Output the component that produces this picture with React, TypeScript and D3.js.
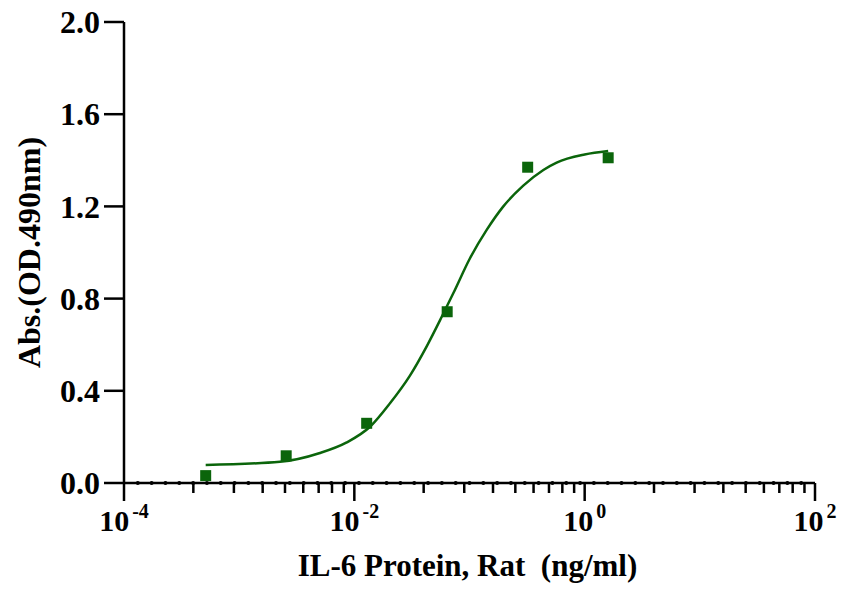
import { useEffect, useRef } from 'react'
import * as d3 from 'd3'

const W = 843, H = 592, M = { top: 22, right: 28, bottom: 109, left: 124 }

// measured points: concentration (ng/ml) and absorbance
const conc = [0.000512, 0.00256, 0.0128, 0.064, 0.32, 1.6]
const absorb = [0.032, 0.118, 0.259, 0.743, 1.370, 1.411]

// fitted curve
const fitConc = [0.000512, 0.00226, 0.00503, 0.00859, 0.01368, 0.0204, 0.0304, 0.0425, 0.0574, 0.0723, 0.101, 0.141, 0.196, 0.293, 0.438, 0.571, 1.0, 1.6]
const fitAbs = [0.078, 0.092, 0.130, 0.176, 0.244, 0.346, 0.466, 0.593, 0.721, 0.823, 0.975, 1.098, 1.199, 1.290, 1.358, 1.390, 1.425, 1.440]

const yTicks = [0, 0.4, 0.8, 1.2, 1.6, 2.0]
const xMajor = [1e-4, 1e-2, 1, 1e2]
const xMajorExp = ['-4', '-2', '0', '2']

const GREEN = '#0b650b'
const FONT = '"Liberation Serif", "Times New Roman", serif'

export default function App() {
  const svgRef = useRef<SVGSVGElement>(null)

  useEffect(() => {
    const svg = d3.select(svgRef.current!)
    svg.selectAll('*').remove()

    const iw = W - M.left - M.right
    const ih = H - M.top - M.bottom
    const x = d3.scaleLog().domain([1e-4, 1e2]).range([0, iw])
    const y = d3.scaleLinear().domain([0, 2]).range([ih, 0])

    const g = svg.append('g').attr('transform', `translate(${M.left},${M.top})`)

    // Y axis
    g.append('line').attr('x1', 0).attr('x2', 0).attr('y1', 0).attr('y2', ih)
      .attr('stroke', '#000').attr('stroke-width', 2.5)
    yTicks.forEach(v => {
      g.append('line').attr('x1', -20).attr('x2', 0).attr('y1', y(v)).attr('y2', y(v))
        .attr('stroke', '#000').attr('stroke-width', 2.5)
      g.append('text').attr('x', -24).attr('y', y(v)).attr('dy', '0.35em')
        .attr('text-anchor', 'end').attr('font-family', FONT).attr('font-weight', 'bold')
        .attr('font-size', 32).attr('fill', '#000').text(d3.format('.1f')(v))
    })

    // X axis line
    g.append('line').attr('x1', 0).attr('x2', iw).attr('y1', ih).attr('y2', ih)
      .attr('stroke', '#000').attr('stroke-width', 2.5)

    // dotted baseline along x axis
    d3.range(1, 50).forEach(i => {
      g.append('circle').attr('cx', (iw / 50) * i).attr('cy', ih).attr('r', 2)
        .attr('fill', '#000')
    })

    // minor ticks (Prism style: log spacing within each 2-decade interval)
    xMajor.slice(0, -1).forEach(m => {
      d3.range(2, 10).forEach(k => {
        const v = m * k * k
        g.append('line').attr('x1', x(v)).attr('x2', x(v)).attr('y1', ih).attr('y2', ih + 10)
          .attr('stroke', '#000').attr('stroke-width', 2.5)
      })
    })
    // major ticks + labels
    xMajor.forEach((v, i) => {
      g.append('line').attr('x1', x(v)).attr('x2', x(v)).attr('y1', ih).attr('y2', ih + 18)
        .attr('stroke', '#000').attr('stroke-width', 2.5)
      const t = g.append('text').attr('x', x(v)).attr('y', ih + 48)
        .attr('text-anchor', 'middle').attr('font-family', FONT).attr('font-weight', 'bold')
        .attr('fill', '#000')
      t.append('tspan').attr('font-size', 30).text('10')
      t.append('tspan').attr('font-size', 20).attr('dy', -13).attr('dx', 3).text(xMajorExp[i])
    })

    // fitted curve
    const line = d3.line<number>()
      .x((_, i) => x(fitConc[i])).y(v => y(v)).curve(d3.curveMonotoneX)
    g.append('path').datum(fitAbs)
      .attr('fill', 'none').attr('stroke', GREEN).attr('stroke-width', 2.5).attr('d', line)

    // data points
    const s = 11
    g.selectAll('rect.pt').data(absorb).join('rect').attr('class', 'pt')
      .attr('x', (_, i) => x(conc[i]) - s / 2).attr('y', v => y(v) - s / 2)
      .attr('width', s).attr('height', s).attr('fill', GREEN)

    // axis titles
    g.append('text').attr('x', iw / 2 - 2).attr('y', ih + 93)
      .attr('text-anchor', 'middle').attr('font-family', FONT).attr('font-weight', 'bold')
      .attr('font-size', 31).attr('fill', '#000').style('white-space', 'pre')
      .text('IL-6 Protein, Rat  (ng/ml)')
    g.append('text').attr('transform', `translate(${-84},${ih / 2}) rotate(-90)`)
      .attr('text-anchor', 'middle').attr('font-family', FONT).attr('font-weight', 'bold')
      .attr('font-size', 32).attr('fill', '#000')
      .text('Abs.(OD.490nm)')
  }, [])

  return (
    <svg ref={svgRef} width={W} height={H} viewBox={`0 0 ${W} ${H}`}
      style={{ position: 'absolute', left: 0, top: 0, background: '#fff' }} />
  )
}
